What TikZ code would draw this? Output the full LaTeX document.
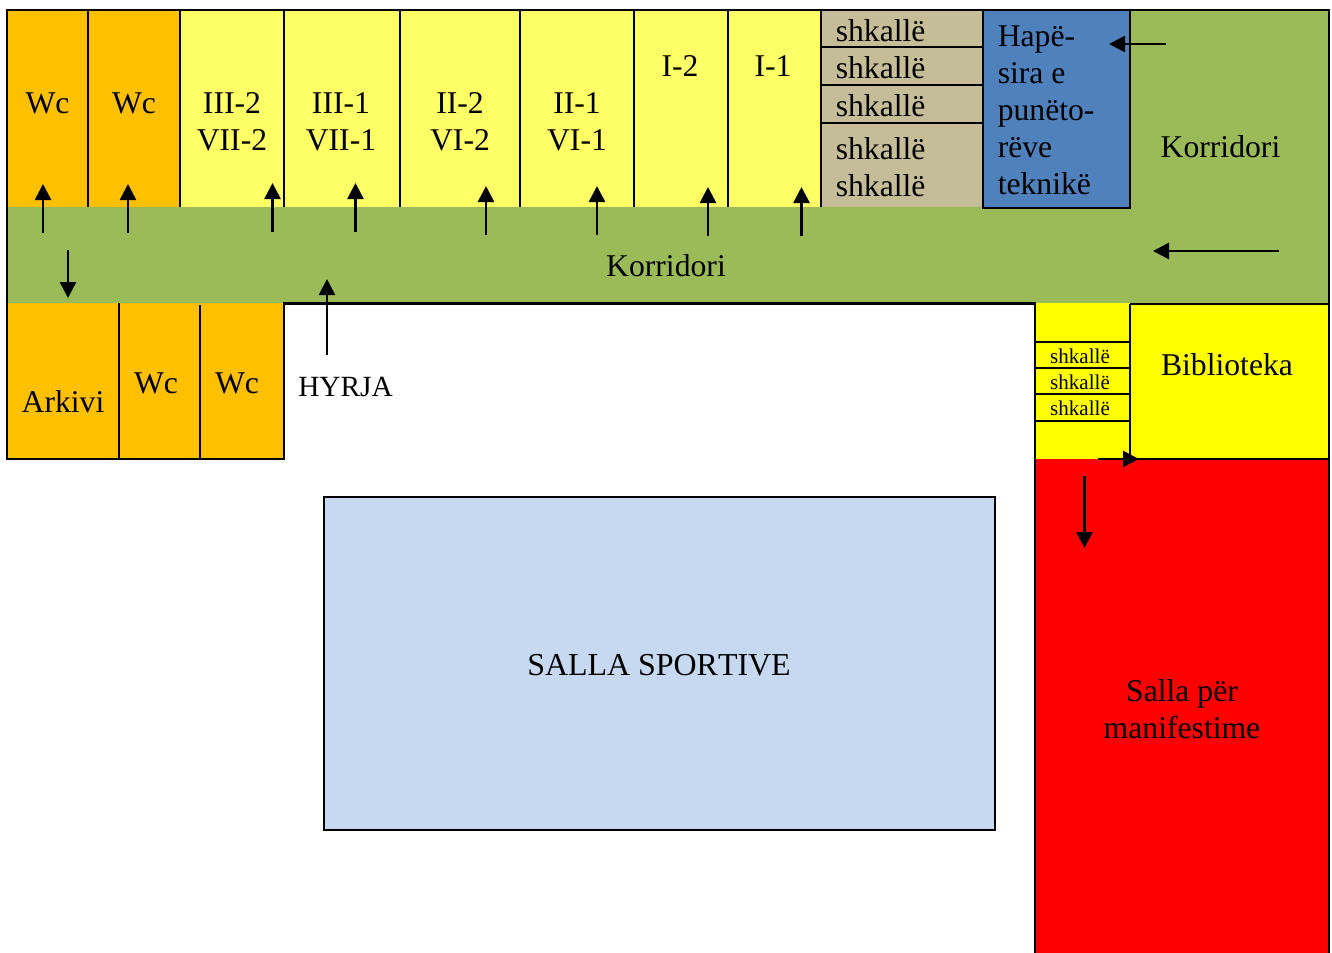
\documentclass[tikz,border=0pt]{standalone}
\usepackage{fontspec}
\setmainfont[Kerning=Off]{Liberation Serif}
\usetikzlibrary{arrows.meta}
\definecolor{orangeroom}{HTML}{FFC000}
\definecolor{paleroom}{HTML}{FFFF66}
\definecolor{corridor}{HTML}{9BBB59}
\definecolor{stairtan}{HTML}{C4BD97}
\definecolor{techblue}{HTML}{4F81BD}
\definecolor{hallblue}{HTML}{C6D9F1}
\definecolor{libyellow}{HTML}{FFFF00}
\definecolor{hallred}{HTML}{FF0000}
\tikzset{
  wall/.style={draw=black,line width=1.75pt},
  lbl/.style={inner sep=0pt,anchor=base,align=center,font=\fontsize{23.75}{27.75}\selectfont},
  lblw/.style={lbl,anchor=base west,align=left},
  tiny/.style={lbl,font=\fontsize{15.8}{19}\selectfont},
  flow/.style={draw=black,line width=2pt,-{Triangle[length=12pt,width=12pt]}}
}
\newcommand{\flowarrow}[5]{\coordinate (#1s) at (#2,#3);\coordinate (#1e) at (#4,#5);\draw[flow] (#1s) -- (#1e);}
\begin{document}
\begin{tikzpicture}[x=0.75pt,y=-0.75pt]
\useasboundingbox (0,0) rectangle (1332,953);
% fills
\fill[orangeroom] (7,10) rectangle (180,207);
\fill[paleroom] (180,10) rectangle (821,207);
\fill[stairtan] (821,10) rectangle (983,207);
\fill[techblue] (983,10) rectangle (1130,208);
\fill[corridor] (1130,10) rectangle (1329,303);
\fill[corridor] (7,207) rectangle (1329,303);
\fill[orangeroom] (7,303) rectangle (284,459);
\fill[libyellow] (1035,303) rectangle (1329,459);
\fill[hallred] (1035,459) rectangle (1329,953);
\fill[hallblue] (324,497) rectangle (995,830);
% walls
\draw[wall] (7,207) -- (7,10) -- (1329,10) -- (1329,953);
\draw[wall] (7,207) -- (7,459) -- (284,459) -- (284,303.5) -- (1035,303.5) -- (1035,953);
\foreach \x in {88,180,284,400,520,634,728,821} \draw[wall] (\x,10) -- (\x,207);
\draw[wall] (983,10) -- (983,208) -- (1130,208) -- (1130,10);
\foreach \y in {47,85,123} \draw[wall] (821,\y) -- (983,\y);
\draw[wall] (119,303) -- (119,459);
\draw[wall] (200,305) -- (200,459);
\draw[wall] (1130,304) -- (1329,304);
\draw[wall] (1130,304) -- (1130,459) -- (1329,459);
\foreach \y in {342,368,394,421} \draw[wall] (1035,\y) -- (1130,\y);
\draw[wall] (324,497) rectangle (995,830);
% labels
\node[lbl] (wc1) at (47.5,113) {Wc};
\node[lbl] (wc2) at (134,113) {Wc};
\node[lbl] (r32) at (232,150) {III-2\\VII-2};
\node[lbl] (r31) at (341,150) {III-1\\VII-1};
\node[lbl] (r22) at (460,150) {II-2\\VI-2};
\node[lbl] (r21) at (577,150) {II-1\\VI-1};
\node[lbl] (r12) at (680,76) {I-2};
\node[lbl] (r11) at (773,76) {I-1};
\node[lblw] (s1) at (835.5,41) {shkallë};
\node[lblw] (s2) at (835.5,78) {shkallë};
\node[lblw] (s3) at (835.5,116) {shkallë};
\node[lblw] (s4) at (835.5,159) {shkallë};
\node[lblw] (s5) at (835.5,196) {shkallë};
\node[lblw] (tech) at (997.5,194) {Hapë-\\sira e\\punëto-\\rëve\\teknikë};
\node[lbl] (korr1) at (1220.5,157) {Korridori};
\node[lbl] (korr2) at (666,276) {Korridori};
\node[lbl] (ark) at (63,412) {Arkivi};
\node[lbl] (wc3) at (156,393) {Wc};
\node[lbl] (wc4) at (237,393) {Wc};
\node[lblw,font=\fontsize{22}{26}\selectfont] (hyr) at (298,396) {HYRJA};
\node[lbl] (bib) at (1227,375) {Biblioteka};
\node[tiny] (t1) at (1080,363) {shkallë};
\node[tiny] (t2) at (1080,389) {shkallë};
\node[tiny] (t3) at (1080,415) {shkallë};
\node[lbl,font=\fontsize{23.95}{27.75}\selectfont] (sport) at (659,675) {SALLA SPORTIVE};
\node[lbl] (mani) at (1182,738) {Salla për\\manifestime};
% arrows
\flowarrow{a1}{43}{233}{43}{184}
\flowarrow{a2}{128}{233}{128}{184}
\flowarrow{a3}{272.5}{232}{272.5}{183}
\flowarrow{a4}{355.5}{232}{355.5}{183}
\flowarrow{a5}{486}{235}{486}{186}
\flowarrow{a6}{597}{235}{597}{186}
\flowarrow{a7}{708}{236}{708}{187}
\flowarrow{a8}{801.5}{236}{801.5}{187}
\flowarrow{a9}{68}{250}{68}{298}
\flowarrow{a10}{327}{355}{327}{279}
\flowarrow{a11}{1166}{44}{1109}{44}
\flowarrow{a12}{1279}{251}{1153}{251}
\flowarrow{a13}{1098}{459}{1139}{459}
\flowarrow{a14}{1084.5}{476}{1084.5}{548}
\end{tikzpicture}
\end{document}
